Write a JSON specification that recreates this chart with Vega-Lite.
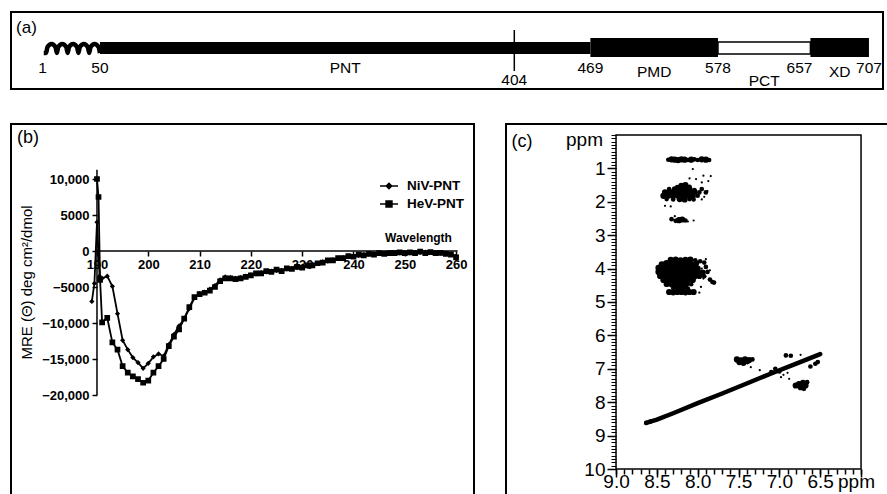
{
  "$schema": "https://vega.github.io/schema/vega-lite/v6.json",
  "padding": {"left": 10, "top": 11, "right": 0, "bottom": 0},
  "background": "white",
  "config": {
    "font": "Liberation Sans",
    "view": {"stroke": "black", "strokeWidth": 2},
    "axis": {"domain": false, "grid": false, "tickColor": "black", "labelColor": "black", "titleColor": "black", "tickWidth": 1.5, "labelFont": "Liberation Sans", "titleFont": "Liberation Sans"},
    "legend": {"labelFont": "Liberation Sans", "labelColor": "black"},
    "text": {"font": "Liberation Sans", "color": "black"}
  },
  "datasets": {
    "domains": [
      {"name": "PNT", "start": 50, "end": 469, "kind": "core"},
      {"name": "PMD", "start": 469, "end": 578, "kind": "box"},
      {"name": "PCT", "start": 578, "end": 657, "kind": "linker"},
      {"name": "XD", "start": 657, "end": 707, "kind": "box"}
    ],
    "coil": [
      {"res": 2, "h": -5}, {"res": 4, "h": -5}, {"res": 5.2, "h": 1}, {"res": 8.6, "h": 4}, {"res": 12, "h": 1}, {"res": 13.2, "h": -5},
      {"res": 14.4, "h": 1}, {"res": 17.8, "h": 4}, {"res": 21.2, "h": 1}, {"res": 22.4, "h": -5},
      {"res": 23.6, "h": 1}, {"res": 27, "h": 4}, {"res": 30.4, "h": 1}, {"res": 31.6, "h": -5},
      {"res": 32.8, "h": 1}, {"res": 36.2, "h": 4}, {"res": 39.6, "h": 1}, {"res": 40.8, "h": -5},
      {"res": 42, "h": 1}, {"res": 45.4, "h": 4}, {"res": 48.8, "h": 1}, {"res": 50, "h": -5}
    ],
    "residues": [
      {"res": 1, "label": "1"}, {"res": 50, "label": "50"}, {"res": 469, "label": "469"},
      {"res": 578, "label": "578"}, {"res": 657, "label": "657"}, {"res": 707, "label": "707"}
    ],
    "names": [
      {"name": "PNT", "res": 259.5}, {"name": "PMD", "res": 523.5}, {"name": "PCT", "res": 617.5}, {"name": "XD", "res": 682}
    ],
    "cd": [
      {"series": "NiV-PNT", "wl": 189, "mre": -7000}, {"series": "NiV-PNT", "wl": 189.5, "mre": -4500}, {"series": "NiV-PNT", "wl": 190, "mre": 4000}, {"series": "NiV-PNT", "wl": 190.5, "mre": -3500},
      {"series": "NiV-PNT", "wl": 191, "mre": -3800}, {"series": "NiV-PNT", "wl": 192, "mre": -3500}, {"series": "NiV-PNT", "wl": 193, "mre": -4900}, {"series": "NiV-PNT", "wl": 194, "mre": -8700},
      {"series": "NiV-PNT", "wl": 195, "mre": -12400}, {"series": "NiV-PNT", "wl": 196, "mre": -13700}, {"series": "NiV-PNT", "wl": 197, "mre": -14800}, {"series": "NiV-PNT", "wl": 198, "mre": -15500},
      {"series": "NiV-PNT", "wl": 199, "mre": -16300}, {"series": "NiV-PNT", "wl": 200, "mre": -15600}, {"series": "NiV-PNT", "wl": 201, "mre": -14700}, {"series": "NiV-PNT", "wl": 202, "mre": -14300},
      {"series": "NiV-PNT", "wl": 203, "mre": -14600}, {"series": "NiV-PNT", "wl": 204, "mre": -13000}, {"series": "NiV-PNT", "wl": 205, "mre": -11600}, {"series": "NiV-PNT", "wl": 206, "mre": -10400},
      {"series": "NiV-PNT", "wl": 207, "mre": -9400}, {"series": "NiV-PNT", "wl": 208, "mre": -8000}, {"series": "NiV-PNT", "wl": 209, "mre": -6500}, {"series": "NiV-PNT", "wl": 210, "mre": -5900},
      {"series": "NiV-PNT", "wl": 211, "mre": -5700}, {"series": "NiV-PNT", "wl": 212, "mre": -5300}, {"series": "NiV-PNT", "wl": 213, "mre": -4800}, {"series": "NiV-PNT", "wl": 214, "mre": -4000},
      {"series": "NiV-PNT", "wl": 215, "mre": -3600}, {"series": "NiV-PNT", "wl": 216, "mre": -3700}, {"series": "NiV-PNT", "wl": 217, "mre": -3800}, {"series": "NiV-PNT", "wl": 218, "mre": -3700},
      {"series": "NiV-PNT", "wl": 219, "mre": -3500}, {"series": "NiV-PNT", "wl": 220, "mre": -3300}, {"series": "NiV-PNT", "wl": 221, "mre": -3200}, {"series": "NiV-PNT", "wl": 222, "mre": -3000},
      {"series": "NiV-PNT", "wl": 223, "mre": -2900}, {"series": "NiV-PNT", "wl": 224, "mre": -2800}, {"series": "NiV-PNT", "wl": 225, "mre": -2700}, {"series": "NiV-PNT", "wl": 226, "mre": -2700},
      {"series": "NiV-PNT", "wl": 227, "mre": -2500}, {"series": "NiV-PNT", "wl": 228, "mre": -2400}, {"series": "NiV-PNT", "wl": 229, "mre": -2300}, {"series": "NiV-PNT", "wl": 230, "mre": -2200},
      {"series": "NiV-PNT", "wl": 231, "mre": -2100}, {"series": "NiV-PNT", "wl": 232, "mre": -1900}, {"series": "NiV-PNT", "wl": 233, "mre": -1700}, {"series": "NiV-PNT", "wl": 234, "mre": -1500},
      {"series": "NiV-PNT", "wl": 235, "mre": -1400}, {"series": "NiV-PNT", "wl": 236, "mre": -1200}, {"series": "NiV-PNT", "wl": 237, "mre": -1000}, {"series": "NiV-PNT", "wl": 238, "mre": -900},
      {"series": "NiV-PNT", "wl": 239, "mre": -800}, {"series": "NiV-PNT", "wl": 240, "mre": -700}, {"series": "NiV-PNT", "wl": 241, "mre": -600}, {"series": "NiV-PNT", "wl": 242, "mre": -500},
      {"series": "NiV-PNT", "wl": 243, "mre": -450}, {"series": "NiV-PNT", "wl": 244, "mre": -400}, {"series": "NiV-PNT", "wl": 245, "mre": -350}, {"series": "NiV-PNT", "wl": 246, "mre": -300},
      {"series": "NiV-PNT", "wl": 247, "mre": -300}, {"series": "NiV-PNT", "wl": 248, "mre": -250}, {"series": "NiV-PNT", "wl": 249, "mre": -250}, {"series": "NiV-PNT", "wl": 250, "mre": -300},
      {"series": "NiV-PNT", "wl": 251, "mre": -250}, {"series": "NiV-PNT", "wl": 252, "mre": -200}, {"series": "NiV-PNT", "wl": 253, "mre": -200}, {"series": "NiV-PNT", "wl": 254, "mre": -150},
      {"series": "NiV-PNT", "wl": 255, "mre": -200}, {"series": "NiV-PNT", "wl": 256, "mre": -250}, {"series": "NiV-PNT", "wl": 257, "mre": -300}, {"series": "NiV-PNT", "wl": 258, "mre": -300},
      {"series": "NiV-PNT", "wl": 259, "mre": -400}, {"series": "NiV-PNT", "wl": 260, "mre": -700},
      {"series": "HeV-PNT", "wl": 190, "mre": 10000}, {"series": "HeV-PNT", "wl": 190.3, "mre": 7500}, {"series": "HeV-PNT", "wl": 190.6, "mre": -4000}, {"series": "HeV-PNT", "wl": 191, "mre": -9900},
      {"series": "HeV-PNT", "wl": 192, "mre": -9300}, {"series": "HeV-PNT", "wl": 193, "mre": -12700}, {"series": "HeV-PNT", "wl": 194, "mre": -13700}, {"series": "HeV-PNT", "wl": 195, "mre": -16000},
      {"series": "HeV-PNT", "wl": 196, "mre": -16900}, {"series": "HeV-PNT", "wl": 197, "mre": -17400}, {"series": "HeV-PNT", "wl": 198, "mre": -17800}, {"series": "HeV-PNT", "wl": 199, "mre": -18300},
      {"series": "HeV-PNT", "wl": 200, "mre": -18000}, {"series": "HeV-PNT", "wl": 201, "mre": -16900}, {"series": "HeV-PNT", "wl": 202, "mre": -16000}, {"series": "HeV-PNT", "wl": 203, "mre": -15000},
      {"series": "HeV-PNT", "wl": 204, "mre": -13200}, {"series": "HeV-PNT", "wl": 205, "mre": -11900}, {"series": "HeV-PNT", "wl": 206, "mre": -10900}, {"series": "HeV-PNT", "wl": 207, "mre": -9400},
      {"series": "HeV-PNT", "wl": 208, "mre": -7800}, {"series": "HeV-PNT", "wl": 209, "mre": -6400}, {"series": "HeV-PNT", "wl": 210, "mre": -6000}, {"series": "HeV-PNT", "wl": 211, "mre": -5800},
      {"series": "HeV-PNT", "wl": 212, "mre": -5500}, {"series": "HeV-PNT", "wl": 213, "mre": -5000}, {"series": "HeV-PNT", "wl": 214, "mre": -4200}, {"series": "HeV-PNT", "wl": 215, "mre": -3800},
      {"series": "HeV-PNT", "wl": 216, "mre": -3800}, {"series": "HeV-PNT", "wl": 217, "mre": -3900}, {"series": "HeV-PNT", "wl": 218, "mre": -3800}, {"series": "HeV-PNT", "wl": 219, "mre": -3600},
      {"series": "HeV-PNT", "wl": 220, "mre": -3400}, {"series": "HeV-PNT", "wl": 221, "mre": -3100}, {"series": "HeV-PNT", "wl": 222, "mre": -3100}, {"series": "HeV-PNT", "wl": 223, "mre": -2800},
      {"series": "HeV-PNT", "wl": 224, "mre": -2900}, {"series": "HeV-PNT", "wl": 225, "mre": -2600}, {"series": "HeV-PNT", "wl": 226, "mre": -2800}, {"series": "HeV-PNT", "wl": 227, "mre": -2400},
      {"series": "HeV-PNT", "wl": 228, "mre": -2500}, {"series": "HeV-PNT", "wl": 229, "mre": -2200}, {"series": "HeV-PNT", "wl": 230, "mre": -2300}, {"series": "HeV-PNT", "wl": 231, "mre": -2000},
      {"series": "HeV-PNT", "wl": 232, "mre": -2000}, {"series": "HeV-PNT", "wl": 233, "mre": -1700}, {"series": "HeV-PNT", "wl": 234, "mre": -1600}, {"series": "HeV-PNT", "wl": 235, "mre": -1300},
      {"series": "HeV-PNT", "wl": 236, "mre": -1300}, {"series": "HeV-PNT", "wl": 237, "mre": -1000}, {"series": "HeV-PNT", "wl": 238, "mre": -1000}, {"series": "HeV-PNT", "wl": 239, "mre": -700},
      {"series": "HeV-PNT", "wl": 240, "mre": -800}, {"series": "HeV-PNT", "wl": 241, "mre": -500}, {"series": "HeV-PNT", "wl": 242, "mre": -600}, {"series": "HeV-PNT", "wl": 243, "mre": -400},
      {"series": "HeV-PNT", "wl": 244, "mre": -500}, {"series": "HeV-PNT", "wl": 245, "mre": -300}, {"series": "HeV-PNT", "wl": 246, "mre": -400}, {"series": "HeV-PNT", "wl": 247, "mre": -300},
      {"series": "HeV-PNT", "wl": 248, "mre": -300}, {"series": "HeV-PNT", "wl": 249, "mre": -200}, {"series": "HeV-PNT", "wl": 250, "mre": -300}, {"series": "HeV-PNT", "wl": 251, "mre": -200},
      {"series": "HeV-PNT", "wl": 252, "mre": -300}, {"series": "HeV-PNT", "wl": 253, "mre": -100}, {"series": "HeV-PNT", "wl": 254, "mre": -300}, {"series": "HeV-PNT", "wl": 255, "mre": -150},
      {"series": "HeV-PNT", "wl": 256, "mre": -300}, {"series": "HeV-PNT", "wl": 257, "mre": -250}, {"series": "HeV-PNT", "wl": 258, "mre": -400}, {"series": "HeV-PNT", "wl": 259, "mre": -500},
      {"series": "HeV-PNT", "wl": 260, "mre": -900}
    ],
    "diag": [
      {"x": 8.63, "y": 8.62}, {"x": 8.5, "y": 8.52}, {"x": 8.3, "y": 8.33}, {"x": 8.0, "y": 8.03}, {"x": 7.7, "y": 7.74},
      {"x": 7.4, "y": 7.44}, {"x": 7.1, "y": 7.14}, {"x": 6.8, "y": 6.85}, {"x": 6.5, "y": 6.56}
    ],
    "nmr": [
      {"x": 8.36, "y": 0.74, "i": 2}, {"x": 8.32, "y": 0.73, "i": 3}, {"x": 8.28, "y": 0.74, "i": 3}, {"x": 8.24, "y": 0.75, "i": 3}, {"x": 8.2, "y": 0.73, "i": 3},
      {"x": 8.16, "y": 0.74, "i": 3}, {"x": 8.12, "y": 0.75, "i": 2}, {"x": 8.08, "y": 0.74, "i": 3}, {"x": 8.04, "y": 0.73, "i": 2}, {"x": 8.0, "y": 0.75, "i": 2},
      {"x": 7.95, "y": 0.73, "i": 3}, {"x": 7.9, "y": 0.74, "i": 3}, {"x": 7.86, "y": 0.75, "i": 2},
      {"x": 8.06, "y": 1.02, "i": 1}, {"x": 7.93, "y": 1.22, "i": 1}, {"x": 7.84, "y": 1.23, "i": 1}, {"x": 8.02, "y": 1.32, "i": 1}, {"x": 7.87, "y": 1.38, "i": 1}, {"x": 7.95, "y": 1.42, "i": 1}, {"x": 8.1, "y": 1.3, "i": 1},
      {"x": 8.2, "y": 1.52, "i": 3}, {"x": 8.15, "y": 1.5, "i": 3}, {"x": 8.1, "y": 1.55, "i": 2}, {"x": 8.25, "y": 1.56, "i": 2},
      {"x": 8.35, "y": 1.62, "i": 2}, {"x": 8.28, "y": 1.63, "i": 3}, {"x": 8.22, "y": 1.62, "i": 4}, {"x": 8.16, "y": 1.6, "i": 4}, {"x": 8.1, "y": 1.63, "i": 3}, {"x": 8.04, "y": 1.65, "i": 2},
      {"x": 8.4, "y": 1.72, "i": 3}, {"x": 8.34, "y": 1.73, "i": 4}, {"x": 8.28, "y": 1.72, "i": 4}, {"x": 8.22, "y": 1.7, "i": 4}, {"x": 8.16, "y": 1.72, "i": 4}, {"x": 8.1, "y": 1.73, "i": 3}, {"x": 8.04, "y": 1.7, "i": 3}, {"x": 7.98, "y": 1.72, "i": 2},
      {"x": 8.42, "y": 1.82, "i": 3}, {"x": 8.36, "y": 1.8, "i": 4}, {"x": 8.3, "y": 1.83, "i": 3}, {"x": 8.24, "y": 1.8, "i": 4}, {"x": 8.18, "y": 1.82, "i": 3}, {"x": 8.12, "y": 1.8, "i": 3}, {"x": 8.06, "y": 1.83, "i": 3}, {"x": 8.0, "y": 1.82, "i": 2},
      {"x": 8.38, "y": 1.92, "i": 2}, {"x": 8.3, "y": 1.93, "i": 2}, {"x": 8.22, "y": 1.92, "i": 3}, {"x": 8.16, "y": 1.93, "i": 3}, {"x": 8.1, "y": 1.92, "i": 2}, {"x": 8.05, "y": 1.93, "i": 2},
      {"x": 7.95, "y": 1.62, "i": 2}, {"x": 7.9, "y": 1.72, "i": 2}, {"x": 7.92, "y": 1.85, "i": 1}, {"x": 7.95, "y": 1.93, "i": 1}, {"x": 7.88, "y": 1.68, "i": 1},
      {"x": 8.4, "y": 2.12, "i": 1}, {"x": 8.33, "y": 2.14, "i": 1},
      {"x": 8.32, "y": 2.52, "i": 2}, {"x": 8.27, "y": 2.57, "i": 2}, {"x": 8.23, "y": 2.55, "i": 3}, {"x": 8.19, "y": 2.53, "i": 3}, {"x": 8.15, "y": 2.56, "i": 2}, {"x": 8.28, "y": 2.43, "i": 1}, {"x": 8.05, "y": 2.56, "i": 1}, {"x": 8.12, "y": 2.59, "i": 1},
      {"x": 8.33, "y": 3.74, "i": 3}, {"x": 8.27, "y": 3.73, "i": 3}, {"x": 8.21, "y": 3.75, "i": 3}, {"x": 8.15, "y": 3.74, "i": 3}, {"x": 8.09, "y": 3.73, "i": 3}, {"x": 8.03, "y": 3.75, "i": 2},
      {"x": 8.44, "y": 3.87, "i": 3}, {"x": 8.38, "y": 3.85, "i": 4}, {"x": 8.32, "y": 3.86, "i": 4}, {"x": 8.26, "y": 3.87, "i": 4}, {"x": 8.2, "y": 3.85, "i": 4}, {"x": 8.14, "y": 3.86, "i": 4}, {"x": 8.08, "y": 3.87, "i": 3}, {"x": 8.02, "y": 3.85, "i": 3},
      {"x": 8.48, "y": 3.98, "i": 3}, {"x": 8.42, "y": 4.0, "i": 4}, {"x": 8.36, "y": 3.98, "i": 4}, {"x": 8.3, "y": 3.99, "i": 4}, {"x": 8.24, "y": 4.0, "i": 4}, {"x": 8.18, "y": 3.98, "i": 4}, {"x": 8.12, "y": 4.0, "i": 4}, {"x": 8.06, "y": 3.98, "i": 4}, {"x": 8.0, "y": 4.0, "i": 3},
      {"x": 8.48, "y": 4.1, "i": 3}, {"x": 8.42, "y": 4.12, "i": 4}, {"x": 8.36, "y": 4.1, "i": 4}, {"x": 8.3, "y": 4.11, "i": 4}, {"x": 8.24, "y": 4.1, "i": 4}, {"x": 8.18, "y": 4.12, "i": 4}, {"x": 8.12, "y": 4.1, "i": 4}, {"x": 8.06, "y": 4.11, "i": 3}, {"x": 8.0, "y": 4.1, "i": 3}, {"x": 7.94, "y": 4.12, "i": 3}, {"x": 7.88, "y": 4.1, "i": 2},
      {"x": 8.46, "y": 4.22, "i": 3}, {"x": 8.4, "y": 4.23, "i": 4}, {"x": 8.34, "y": 4.22, "i": 4}, {"x": 8.28, "y": 4.24, "i": 4}, {"x": 8.22, "y": 4.22, "i": 4}, {"x": 8.16, "y": 4.23, "i": 4}, {"x": 8.1, "y": 4.22, "i": 4}, {"x": 8.04, "y": 4.24, "i": 3}, {"x": 7.98, "y": 4.22, "i": 3}, {"x": 7.92, "y": 4.23, "i": 2},
      {"x": 8.42, "y": 4.34, "i": 3}, {"x": 8.36, "y": 4.35, "i": 4}, {"x": 8.3, "y": 4.34, "i": 4}, {"x": 8.24, "y": 4.36, "i": 4}, {"x": 8.18, "y": 4.34, "i": 4}, {"x": 8.12, "y": 4.35, "i": 3}, {"x": 8.06, "y": 4.34, "i": 3}, {"x": 7.85, "y": 4.33, "i": 2}, {"x": 7.82, "y": 4.4, "i": 2},
      {"x": 8.38, "y": 4.46, "i": 3}, {"x": 8.32, "y": 4.47, "i": 3}, {"x": 8.26, "y": 4.46, "i": 4}, {"x": 8.2, "y": 4.48, "i": 4}, {"x": 8.14, "y": 4.46, "i": 3}, {"x": 8.08, "y": 4.47, "i": 2},
      {"x": 8.3, "y": 4.58, "i": 2}, {"x": 8.24, "y": 4.6, "i": 3}, {"x": 8.18, "y": 4.58, "i": 3}, {"x": 8.12, "y": 4.6, "i": 2},
      {"x": 8.35, "y": 4.7, "i": 3}, {"x": 8.3, "y": 4.71, "i": 3}, {"x": 8.25, "y": 4.7, "i": 3}, {"x": 8.2, "y": 4.7, "i": 3}, {"x": 8.15, "y": 4.71, "i": 3}, {"x": 8.1, "y": 4.7, "i": 3}, {"x": 8.05, "y": 4.7, "i": 3}, {"x": 7.98, "y": 4.72, "i": 1},
      {"x": 7.97, "y": 3.78, "i": 2}, {"x": 7.92, "y": 3.82, "i": 2}, {"x": 7.9, "y": 3.95, "i": 2}, {"x": 7.95, "y": 4.0, "i": 1}, {"x": 7.85, "y": 4.05, "i": 1}, {"x": 7.8, "y": 4.42, "i": 2}, {"x": 7.93, "y": 4.3, "i": 1}, {"x": 7.9, "y": 3.72, "i": 1}, {"x": 7.96, "y": 4.55, "i": 1},
      {"x": 8.63, "y": 8.62, "i": 2}, {"x": 8.58, "y": 8.58, "i": 2},
      {"x": 7.52, "y": 6.72, "i": 3}, {"x": 7.47, "y": 6.75, "i": 3}, {"x": 7.42, "y": 6.72, "i": 3}, {"x": 7.37, "y": 6.74, "i": 3}, {"x": 7.33, "y": 6.72, "i": 2}, {"x": 7.49, "y": 6.8, "i": 3}, {"x": 7.44, "y": 6.82, "i": 3}, {"x": 7.39, "y": 6.8, "i": 2}, {"x": 7.35, "y": 6.95, "i": 1}, {"x": 7.24, "y": 7.04, "i": 1},
      {"x": 6.8, "y": 7.5, "i": 3}, {"x": 6.76, "y": 7.46, "i": 3}, {"x": 6.71, "y": 7.42, "i": 3}, {"x": 6.68, "y": 7.5, "i": 3}, {"x": 6.74, "y": 7.55, "i": 3}, {"x": 6.7, "y": 7.6, "i": 2}, {"x": 6.66, "y": 7.4, "i": 2},
      {"x": 6.92, "y": 6.6, "i": 2}, {"x": 6.86, "y": 6.61, "i": 2}, {"x": 6.74, "y": 6.58, "i": 1}, {"x": 6.56, "y": 6.85, "i": 2}, {"x": 6.53, "y": 6.8, "i": 2}, {"x": 6.62, "y": 6.93, "i": 2},
      {"x": 7.05, "y": 7.0, "i": 2}, {"x": 7.0, "y": 7.08, "i": 2}, {"x": 6.95, "y": 7.18, "i": 1}, {"x": 6.9, "y": 7.12, "i": 1}, {"x": 7.1, "y": 7.1, "i": 2}, {"x": 7.15, "y": 7.2, "i": 1}, {"x": 6.98, "y": 7.25, "i": 1}, {"x": 6.88, "y": 7.3, "i": 1}
    ]
  },
  "vconcat": [
    {
      "width": 872,
      "height": 77,
      "layer": [
        {
          "data": {"name": "domains"},
          "transform": [{"filter": "datum.kind == 'core'"}],
          "mark": {"type": "rect", "color": "black"},
          "encoding": {
            "x": {"field": "start", "type": "quantitative", "scale": {"domain": [-26, 719], "nice": false, "zero": false}, "axis": null},
            "x2": {"field": "end"},
            "y": {"datum": -6, "type": "quantitative", "scale": {"domain": [-41, 36], "nice": false, "zero": false}, "axis": null},
            "y2": {"datum": 6}
          }
        },
        {
          "data": {"name": "domains"},
          "transform": [{"filter": "datum.kind == 'box'"}],
          "mark": {"type": "rect", "color": "black"},
          "encoding": {
            "x": {"field": "start", "type": "quantitative", "axis": null},
            "x2": {"field": "end"},
            "y": {"datum": -9, "type": "quantitative", "axis": null},
            "y2": {"datum": 10}
          }
        },
        {
          "data": {"name": "domains"},
          "transform": [{"filter": "datum.kind == 'linker'"}],
          "mark": {"type": "rect", "fill": "white", "stroke": "black", "strokeWidth": 1.5},
          "encoding": {
            "x": {"field": "start", "type": "quantitative", "axis": null},
            "x2": {"field": "end"},
            "y": {"datum": -6, "type": "quantitative", "axis": null},
            "y2": {"datum": 6}
          }
        },
        {
          "data": {"name": "coil"},
          "mark": {"type": "line", "color": "black", "strokeWidth": 4.5, "interpolate": "monotone"},
          "encoding": {
            "x": {"field": "res", "type": "quantitative", "axis": null},
            "y": {"field": "h", "type": "quantitative", "axis": null}
          }
        },
        {
          "data": {"values": [{"res": 404}]},
          "mark": {"type": "rule", "color": "black", "strokeWidth": 1.5},
          "encoding": {
            "x": {"field": "res", "type": "quantitative", "axis": null},
            "y": {"datum": 18, "type": "quantitative", "axis": null},
            "y2": {"datum": -23}
          }
        },
        {
          "data": {"name": "residues"},
          "transform": [{"filter": "datum.res != 657"}],
          "mark": {"type": "text", "fontSize": 15.5, "baseline": "middle", "align": "center"},
          "encoding": {
            "x": {"field": "res", "type": "quantitative", "axis": null},
            "y": {"datum": -20, "type": "quantitative", "axis": null},
            "text": {"field": "label"}
          }
        },
        {
          "data": {"name": "residues"},
          "transform": [{"filter": "datum.res == 657"}],
          "mark": {"type": "text", "fontSize": 15.5, "baseline": "middle", "align": "right", "dx": 2},
          "encoding": {
            "x": {"field": "res", "type": "quantitative", "axis": null},
            "y": {"datum": -20, "type": "quantitative", "axis": null},
            "text": {"field": "label"}
          }
        },
        {
          "data": {"values": [{"res": 404, "label": "404"}]},
          "mark": {"type": "text", "fontSize": 15.5, "baseline": "middle", "align": "center"},
          "encoding": {
            "x": {"field": "res", "type": "quantitative", "axis": null},
            "y": {"datum": -32, "type": "quantitative", "axis": null},
            "text": {"field": "label"}
          }
        },
        {
          "data": {"name": "names"},
          "transform": [{"filter": "datum.name == 'PNT'"}],
          "mark": {"type": "text", "fontSize": 15.5, "baseline": "middle", "align": "center"},
          "encoding": {
            "x": {"field": "res", "type": "quantitative", "axis": null},
            "y": {"datum": -20, "type": "quantitative", "axis": null},
            "text": {"field": "name"}
          }
        },
        {
          "data": {"name": "names"},
          "transform": [{"filter": "datum.name == 'PMD' || datum.name == 'XD'"}],
          "mark": {"type": "text", "fontSize": 15.5, "baseline": "middle", "align": "center"},
          "encoding": {
            "x": {"field": "res", "type": "quantitative", "axis": null},
            "y": {"datum": -23.5, "type": "quantitative", "axis": null},
            "text": {"field": "name"}
          }
        },
        {
          "data": {"name": "names"},
          "transform": [{"filter": "datum.name == 'PCT'"}],
          "mark": {"type": "text", "fontSize": 15.5, "baseline": "middle", "align": "center"},
          "encoding": {
            "x": {"field": "res", "type": "quantitative", "axis": null},
            "y": {"datum": -33, "type": "quantitative", "axis": null},
            "text": {"field": "name"}
          }
        },
        {
          "data": {"values": [{"label": "(a)"}]},
          "mark": {"type": "text", "fontSize": 17, "baseline": "middle", "align": "center"},
          "encoding": {
            "x": {"datum": -12.8, "type": "quantitative", "axis": null},
            "y": {"datum": 20, "type": "quantitative", "axis": null},
            "text": {"field": "label"}
          }
        }
      ]
    },
    {
      "hconcat": [
        {
          "width": 463,
          "height": 376,
          "layer": [
            {
              "data": {"name": "cd"},
              "mark": {"type": "line", "color": "black", "strokeWidth": 1.8},
              "encoding": {
                "x": {"field": "wl", "type": "quantitative", "scale": {"domain": [173.24, 263.49], "nice": false, "zero": false},
                  "axis": {"orient": "bottom", "offset": -249, "values": [190, 200, 210, 220, 230, 240, 250, 260], "tickSize": 5, "labelFontSize": 13, "labelFontWeight": "bold", "labelPadding": 2,
                    "title": "Wavelength", "titleFontSize": 12, "titleFontWeight": "bold", "titleX": 407, "titleY": -14, "titleAlign": "center", "titleBaseline": "middle"}},
                "y": {"field": "mre", "type": "quantitative", "scale": {"domain": [-34583, 17639], "nice": false, "zero": false},
                  "axis": {"orient": "left", "offset": -86, "values": [-20000, -15000, -10000, -5000, 0, 5000, 10000], "tickSize": 5, "labelFontSize": 13, "labelFontWeight": "bold", "labelPadding": 3,
                    "labelExpr": "abs(datum.value) >= 10000 ? format(datum.value, ',') : format(datum.value, 'd')",
                    "title": "MRE (Θ) deg cm²/dmol", "titleFontSize": 15, "titleFontWeight": "normal", "titleX": -71, "titleY": 158, "titleAngle": 270, "titleAlign": "center", "titleBaseline": "middle"}},
                "detail": {"field": "series"}
              }
            },
            {
              "data": {"name": "cd"},
              "mark": {"type": "point", "filled": true, "color": "black", "size": 300, "opacity": 1},
              "encoding": {
                "x": {"field": "wl", "type": "quantitative"},
                "y": {"field": "mre", "type": "quantitative"},
                "shape": {"field": "series", "type": "nominal",
                  "scale": {"domain": ["NiV-PNT", "HeV-PNT"], "range": ["M-1,0L1,0M0,-0.3L0.3,0L0,0.3L-0.3,0Z", "M-1,0L1,0M-0.33,-0.33L0.33,-0.33L0.33,0.33L-0.33,0.33Z"]},
                  "legend": {"orient": "none", "legendX": 368, "legendY": 164, "title": null, "labelFontSize": 13.5, "labelFontWeight": "bold", "symbolSize": 324,
                    "symbolStrokeWidth": 1.5, "symbolFillColor": "black", "symbolStrokeColor": "black", "rowPadding": 1, "labelOffset": 8, "padding": 0,
                    "encoding": {"symbols": {"stroke": {"value": "black"}, "strokeWidth": {"value": 1.5}, "fill": {"value": "black"}}}}}
              }
            },
            {
              "data": {"values": [{"wl": 190}]},
              "mark": {"type": "rule", "color": "black", "strokeWidth": 1.5},
              "encoding": {
                "x": {"field": "wl", "type": "quantitative"},
                "y": {"datum": 11300, "type": "quantitative"},
                "y2": {"datum": -20000}
              }
            },
            {
              "data": {"values": [{"mre": 0}]},
              "mark": {"type": "rule", "color": "black", "strokeWidth": 1.5},
              "encoding": {
                "x": {"datum": 190, "type": "quantitative"},
                "x2": {"datum": 260.3},
                "y": {"field": "mre", "type": "quantitative"}
              }
            },
            {
              "data": {"values": [{"label": "(b)"}]},
              "mark": {"type": "text", "fontSize": 18, "baseline": "middle", "align": "center"},
              "encoding": {
                "x": {"datum": 176.55, "type": "quantitative"},
                "y": {"datum": 15694, "type": "quantitative"},
                "text": {"field": "label"}
              }
            }
          ]
        },
        {
          "width": 390,
          "height": 376,
          "resolve": {"axis": {"x": "independent", "y": "independent"}},
          "layer": [
            {
              "data": {"values": [{"label": "frame"}]},
              "mark": {"type": "rect", "fillOpacity": 0, "stroke": "black", "strokeWidth": 1.5},
              "encoding": {
                "x": {"datum": 9.0, "type": "quantitative", "scale": {"domain": [10.347, 5.572], "nice": false, "zero": false},
                  "axis": {"orient": "bottom", "offset": -31, "values": [6.0, 6.1, 6.2, 6.3, 6.4, 6.5, 6.6, 6.7, 6.8, 6.9, 7.0, 7.1, 7.2, 7.3, 7.4, 7.5, 7.6, 7.7, 7.8, 7.9, 8.0, 8.1, 8.2, 8.3, 8.4, 8.5, 8.6, 8.7, 8.8, 8.9, 9.0], "labels": false, "tickSize": 5, "title": null}},
                "x2": {"datum": 6.0},
                "y": {"datum": 0, "type": "quantitative", "scale": {"domain": [-0.329, 10.928], "nice": false, "zero": false, "reverse": true},
                  "axis": {"orient": "left", "offset": -110, "values": [0, 0.1, 0.2, 0.3, 0.4, 0.5, 0.6, 0.7, 0.8, 0.9, 1, 1.1, 1.2, 1.3, 1.4, 1.5, 1.6, 1.7, 1.8, 1.9, 2, 2.1, 2.2, 2.3, 2.4, 2.5, 2.6, 2.7, 2.8, 2.9, 3, 3.1, 3.2, 3.3, 3.4, 3.5, 3.6, 3.7, 3.8, 3.9, 4, 4.1, 4.2, 4.3, 4.4, 4.5, 4.6, 4.7, 4.8, 4.9, 5, 5.1, 5.2, 5.3, 5.4, 5.5, 5.6, 5.7, 5.8, 5.9, 6, 6.1, 6.2, 6.3, 6.4, 6.5, 6.6, 6.7, 6.8, 6.9, 7, 7.1, 7.2, 7.3, 7.4, 7.5, 7.6, 7.7, 7.8, 7.9, 8, 8.1, 8.2, 8.3, 8.4, 8.5, 8.6, 8.7, 8.8, 8.9, 9, 9.1, 9.2, 9.3, 9.4, 9.5, 9.6, 9.7, 9.8, 9.9, 10], "labels": false, "tickSize": 5, "tickWidth": 1, "title": null}},
                "y2": {"datum": 10}
              }
            },
            {
              "data": {"name": "diag"},
              "mark": {"type": "line", "color": "black", "strokeWidth": 4.5, "strokeCap": "round"},
              "encoding": {
                "x": {"field": "x", "type": "quantitative", "axis": null},
                "y": {"field": "y", "type": "quantitative", "axis": null}
              }
            },
            {
              "data": {"name": "nmr"},
              "mark": {"type": "circle", "color": "black", "opacity": 1},
              "encoding": {
                "x": {"field": "x", "type": "quantitative",
                  "axis": {"orient": "bottom", "offset": -31, "values": [9.0, 8.5, 8.0, 7.5, 7.0, 6.5, 6.0], "tickSize": 8, "labelFontSize": 19, "labelPadding": -5,
                    "labelExpr": "datum.value < 6.2 ? '' : format(datum.value, '.1f')",
                    "title": "ppm", "titleFontSize": 19, "titleFontWeight": "normal", "titleX": 350, "titleY": 18.5, "titleAlign": "center", "titleBaseline": "alphabetic"}},
                "y": {"field": "y", "type": "quantitative",
                  "axis": {"orient": "left", "offset": -110, "values": [1, 2, 3, 4, 5, 6, 7, 8, 9, 10], "tickSize": 9, "labelFontSize": 19, "labelPadding": 2,
                    "title": "ppm", "titleFontSize": 19, "titleFontWeight": "normal", "titleAngle": 0, "titleX": -32, "titleY": 21, "titleAlign": "center", "titleBaseline": "alphabetic"}},
                "size": {"field": "i", "type": "quantitative", "scale": {"domain": [1, 4], "range": [5, 55]}, "legend": null}
              }
            },
            {
              "data": {"values": [{"label": "(c)"}]},
              "mark": {"type": "text", "fontSize": 18, "baseline": "middle", "align": "center"},
              "encoding": {
                "x": {"datum": 10.15, "type": "quantitative", "axis": null},
                "y": {"datum": 0.21, "type": "quantitative", "axis": null},
                "text": {"field": "label"}
              }
            }
          ]
        }
      ],
      "spacing": 30
    }
  ],
  "spacing": 32
}
